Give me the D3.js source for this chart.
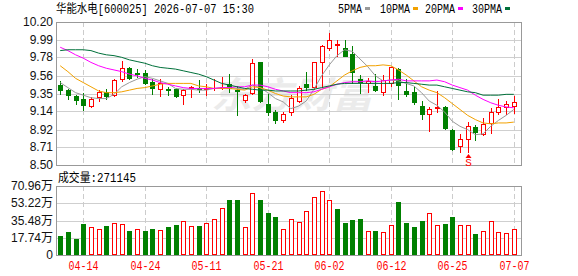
<!DOCTYPE html>
<html><head><meta charset="utf-8">
<script src="https://cdn.jsdelivr.net/npm/d3@7"></script>
<style>html,body{margin:0;padding:0;background:#fff;overflow:hidden}</style>
</head><body><svg id="c" width="578" height="276"></svg>
<script>
const title = "华能水电[600025] 2026-07-07 15:30";
const dates = ["04-09","04-10","04-13","04-14","04-15","04-16","04-17","04-20","04-21","04-22",
"04-23","04-24","04-27","04-28","04-29","04-30","05-06","05-07","05-08","05-11",
"05-12","05-13","05-14","05-15","05-18","05-19","05-20","05-21","05-22","05-25",
"05-26","05-27","05-28","05-29","06-01","06-02","06-03","06-04","06-05","06-08",
"06-09","06-10","06-11","06-12","06-15","06-16","06-17","06-18","06-22","06-23",
"06-24","06-25","06-26","06-29","06-30","07-01","07-02","07-03","07-06","07-07"];
const opens = [9.45,9.39,9.32,9.28,9.20,9.31,9.37,9.33,9.52,9.65,
9.59,9.59,9.49,9.40,9.40,9.40,9.33,9.41,9.41,9.40,
9.41,9.42,9.46,9.39,9.27,9.36,9.72,9.23,9.13,9.04,
9.13,9.26,9.46,9.43,9.73,9.89,9.93,9.89,9.82,9.52,
9.48,9.44,9.37,9.48,9.64,9.38,9.37,9.20,9.11,9.18,
9.19,8.92,8.72,8.81,8.95,8.87,9.00,9.13,9.19,9.20];
const highs = [9.50,9.40,9.33,9.36,9.31,9.39,9.40,9.52,9.74,9.66,
9.64,9.63,9.52,9.52,9.43,9.41,9.40,9.44,9.51,9.46,
9.52,9.55,9.58,9.44,9.35,9.76,9.73,9.35,9.15,9.13,
9.33,9.44,9.61,9.73,9.93,10.07,9.99,9.99,9.92,9.57,
9.53,9.58,9.57,9.67,9.65,9.52,9.44,9.26,9.19,9.38,
9.20,8.93,8.87,9.01,8.98,9.06,9.18,9.28,9.26,9.32];
const lows = [9.34,9.29,9.23,9.15,9.19,9.26,9.28,9.32,9.50,9.52,
9.55,9.46,9.35,9.32,9.33,9.31,9.22,9.31,9.37,9.33,
9.39,9.40,9.37,9.10,9.25,9.35,9.25,9.09,9.00,9.01,
9.09,9.25,9.39,9.40,9.43,9.87,9.80,9.79,9.47,9.36,
9.37,9.38,9.33,9.44,9.29,9.32,9.23,9.05,8.91,9.13,
8.93,8.68,8.65,8.66,8.80,8.86,8.88,9.11,9.11,9.12];
const closes = [9.39,9.33,9.27,9.21,9.29,9.37,9.32,9.51,9.65,9.54,
9.58,9.47,9.42,9.47,9.39,9.32,9.39,9.43,9.40,9.42,
9.42,9.43,9.42,9.38,9.33,9.71,9.26,9.13,9.03,9.11,
9.30,9.42,9.43,9.72,9.91,9.99,9.94,9.80,9.60,9.49,
9.50,9.39,9.51,9.66,9.45,9.34,9.25,9.11,9.17,9.19,
8.94,8.69,8.81,8.96,8.89,8.99,9.13,9.19,9.23,9.25];
// volume in 万
const volumes = [19.5,24.0,16.5,31.9,28.5,26.4,29.8,32.6,31.6,24.7,
26.4,24.7,26.7,25.4,28.8,30.9,34.7,29.5,29.8,32.6,
36.7,48.0,56.6,56.6,28.5,63.4,56.6,43.5,39.1,26.4,
36.7,33.6,44.9,59.3,65.5,56.6,47.3,33.2,36.0,37.0,
24.4,24.4,23.3,30.5,54.5,33.2,28.8,35.0,42.9,30.5,
31.9,39.1,30.5,30.5,21.6,24.4,34.7,23.7,22.6,27.1145];
// 1 = up (red), 0 = down (green) as shown on volume bars
const volUp = [0,0,0,0,1,1,0,1,1,0,
1,0,0,1,0,0,1,1,0,1,
1,1,0,0,1,1,0,0,0,1,
1,1,1,1,1,1,0,0,0,0,
1,0,1,1,0,0,0,0,1,1,
0,0,1,1,0,1,1,1,1,1];
const ma5 = [9.48,9.42,9.36,9.33,9.30,9.29,9.29,9.34,9.43,9.48,
9.52,9.55,9.53,9.50,9.47,9.41,9.40,9.40,9.39,9.39,
9.41,9.42,9.42,9.41,9.40,9.45,9.42,9.36,9.29,9.25,
9.17,9.20,9.26,9.40,9.56,9.69,9.80,9.87,9.85,9.76,
9.67,9.56,9.50,9.51,9.50,9.47,9.44,9.36,9.26,9.21,
9.13,9.02,8.96,8.92,8.86,8.87,8.96,9.03,9.09,9.16];
const ma10 = [9.68,9.61,9.53,9.48,9.43,9.38,9.36,9.36,9.37,9.39,
9.41,9.42,9.44,9.46,9.47,9.47,9.47,9.47,9.44,9.43,
9.41,9.41,9.41,9.40,9.39,9.43,9.42,9.39,9.35,9.32,
9.31,9.31,9.31,9.34,9.40,9.43,9.50,9.57,9.62,9.66,
9.68,9.68,9.69,9.68,9.63,9.57,9.50,9.43,9.39,9.36,
9.30,9.23,9.16,9.09,9.04,9.00,8.99,9.00,9.00,9.01];
const ma20 = [9.90,9.86,9.81,9.77,9.72,9.68,9.65,9.63,9.61,9.58,
9.56,9.53,9.51,9.48,9.46,9.44,9.42,9.41,9.41,9.41,
9.41,9.42,9.42,9.43,9.43,9.45,9.45,9.43,9.40,9.38,
9.36,9.36,9.36,9.37,9.40,9.43,9.46,9.48,9.49,9.49,
9.50,9.49,9.50,9.51,9.52,9.50,9.50,9.50,9.50,9.51,
9.49,9.45,9.42,9.39,9.33,9.28,9.24,9.21,9.19,9.18];
const ma30 = [9.86,9.87,9.87,9.87,9.86,9.83,9.81,9.80,9.78,9.75,
9.73,9.71,9.68,9.66,9.65,9.64,9.62,9.60,9.58,9.55,
9.51,9.47,9.45,9.43,9.41,9.40,9.39,9.39,9.38,9.38,
9.38,9.38,9.39,9.40,9.42,9.44,9.46,9.47,9.47,9.47,
9.47,9.47,9.47,9.47,9.48,9.48,9.47,9.46,9.45,9.45,
9.43,9.41,9.39,9.37,9.36,9.33,9.33,9.33,9.34,9.34];
const maNames = ["5PMA","10PMA","20PMA","30PMA"];
const priceTicks = [10.20,9.99,9.78,9.56,9.35,9.14,8.92,8.71,8.50];
const volTicks = [0,17.74,35.48,53.22,70.96];
const volTickLabels = ["0","17.74万","35.48万","53.22万","70.96万"];
const dateTicks = ["04-14","04-24","05-11","05-21","06-02","06-12","06-25","07-07"];
const volTitle = "成交量:271145";
const signals = [{date:"06-29", label:"S"}];

// ---------- drawing ----------
const svg = d3.select("#c");
const L = 56, R = 522, PT = 22, PB = 165, VT = 186, VB = 255;
const RED = "#ff0000", GREEN = "#008000";
const maColors = ["#999999","#f2a100","#ff00ff","#00703a"];
const monoFont = "'Liberation Mono','Noto Sans CJK SC',monospace";
const sansFont = "'Liberation Sans','Noto Sans CJK SC',Arial,sans-serif";

const x = d3.scalePoint().domain(dates).range([60.2, 513.8]);
const y = d3.scaleLinear().domain([8.50, 10.20]).range([PB, PT]);
const vy = d3.scaleLinear().domain([0, 70.96]).range([VB, VT]);

svg.append("rect").attr("width",578).attr("height",276).attr("fill","#fff");

// watermark
svg.append("text").attr("x",211).attr("y",108)
  .attr("font-family","'Noto Sans CJK SC',sans-serif").attr("font-size",36)
  .attr("font-weight","bold").attr("font-style","italic")
  .attr("fill","#ebebeb").attr("textLength",162).attr("lengthAdjust","spacingAndGlyphs")
  .text("东方财富");

// grids
const grid = svg.append("g");
priceTicks.forEach(t => {
  const yy = Math.round(y(t)) + 0.5;
  grid.append("line").attr("x1",L).attr("x2",R).attr("y1",yy).attr("y2",yy)
    .attr("stroke","#cfcfcf").attr("stroke-width",1);
});
volTicks.forEach(t => {
  const yy = Math.round(vy(t)) + 0.5;
  grid.append("line").attr("x1",L).attr("x2",R).attr("y1",yy).attr("y2",yy)
    .attr("stroke","#cfcfcf").attr("stroke-width",1);
});
dateTicks.forEach(d => {
  const xx = Math.round(x(d)) + 0.5;
  grid.append("line").attr("x1",xx).attr("x2",xx).attr("y1",PT).attr("y2",PB)
    .attr("stroke","#cccccc").attr("stroke-dasharray","5,3");
  grid.append("line").attr("x1",xx).attr("x2",xx).attr("y1",VT).attr("y2",VB)
    .attr("stroke","#cccccc").attr("stroke-dasharray","5,3");
});

// borders
svg.append("rect").attr("x",L+0.5).attr("y",PT+0.5).attr("width",R-L-1).attr("height",PB-PT)
  .attr("fill","none").attr("stroke","#999");
svg.append("rect").attr("x",L+0.5).attr("y",VT+0.5).attr("width",R-L-1).attr("height",VB-VT)
  .attr("fill","none").attr("stroke","#999");

// candles
const cg = svg.append("g");
dates.forEach((d,i) => {
  const o = opens[i], c = closes[i], h = highs[i], l = lows[i];
  const up = c >= o;
  const col = up ? RED : GREEN;
  const cx = Math.round(x(d));
  cg.append("line").attr("x1",cx+0.5).attr("x2",cx+0.5)
    .attr("y1",Math.round(y(h))).attr("y2",Math.round(y(l))+1)
    .attr("stroke",col).attr("stroke-width",1);
  const yTop = Math.round(y(Math.max(o,c))), yBot = Math.round(y(Math.min(o,c)));
  if (yBot - yTop < 1) {
    cg.append("line").attr("x1",cx-2).attr("x2",cx+3).attr("y1",yTop+0.5).attr("y2",yTop+0.5)
      .attr("stroke",col);
  } else if (up) {
    cg.append("rect").attr("x",cx-1.5).attr("y",yTop+0.5).attr("width",4).attr("height",yBot-yTop)
      .attr("fill","#fff").attr("stroke",RED);
  } else {
    cg.append("rect").attr("x",cx-2).attr("y",yTop).attr("width",5).attr("height",yBot-yTop+1)
      .attr("fill",GREEN);
  }
});

// MA lines
[ma5, ma10, ma20, ma30].forEach((arr,k) => {
  const line = d3.line().x((v,i)=>x(dates[i])).y(v=>y(v));
  svg.append("path").attr("d",line(arr)).attr("fill","none")
    .attr("stroke",maColors[k]).attr("stroke-width",1);
});

// signal marker
signals.forEach(s => {
  const i = dates.indexOf(s.date);
  const cx = Math.round(x(s.date)) + 0.5;
  const ty = Math.round(y(lows[i])) + 2;
  svg.append("path").attr("d",`M${cx},${ty} L${cx+3},${ty+4} L${cx-3},${ty+4} Z`).attr("fill",RED);
  svg.append("text").attr("x",cx).attr("y",ty+12).attr("text-anchor","middle")
    .attr("font-family",monoFont).attr("font-size",11).attr("fill",RED).text(s.label);
});

// volume bars
const vg = svg.append("g");
dates.forEach((d,i) => {
  const cx = Math.round(x(d));
  const top = Math.round(vy(volumes[i]));
  if (volUp[i]) {
    vg.append("rect").attr("x",cx-1.5).attr("y",top+0.5).attr("width",4).attr("height",VB-top-1)
      .attr("fill","#fff").attr("stroke",RED);
  } else {
    vg.append("rect").attr("x",cx-2).attr("y",top).attr("width",5).attr("height",VB-top)
      .attr("fill",GREEN);
  }
});

// y labels
priceTicks.forEach(t => {
  svg.append("text").attr("x",53).attr("y",Math.round(y(t))+3.5).attr("text-anchor","end")
    .attr("font-family",sansFont).attr("font-size",12).attr("fill","#111")
    .text(t.toFixed(2));
});
volTicks.forEach((t,k) => {
  svg.append("text").attr("x",53).attr("y",Math.round(vy(t))+4).attr("text-anchor","end")
    .attr("font-family",sansFont).attr("font-size",12).attr("fill","#111")
    .text(volTickLabels[k]);
});

// date labels
dateTicks.forEach(d => {
  svg.append("text").attr("x",Math.round(x(d))+0.5).attr("y",270).attr("text-anchor","middle")
    .attr("font-family",monoFont).attr("font-size",12).attr("fill",RED)
    .attr("textLength",30).attr("lengthAdjust","spacingAndGlyphs").text(d);
});

// title
svg.append("text").attr("x",56).attr("y",12.5).attr("font-family",monoFont).attr("font-size",12)
  .attr("fill","#000").attr("textLength",198).attr("lengthAdjust","spacingAndGlyphs").text(title);
svg.append("text").attr("x",58).attr("y",181.5).attr("font-family",monoFont).attr("font-size",12)
  .attr("fill","#000").attr("textLength",78).attr("lengthAdjust","spacingAndGlyphs").text(volTitle);

// legend
const legX = [338, 380, 425, 472];
maNames.forEach((n,k) => {
  const w = n.length * 6;
  svg.append("text").attr("x",legX[k]).attr("y",12.5).attr("font-family",monoFont).attr("font-size",12)
    .attr("fill","#000").attr("textLength",w).attr("lengthAdjust","spacingAndGlyphs").text(n);
  svg.append("rect").attr("x",legX[k]+w+3).attr("y",7).attr("width",5).attr("height",3)
    .attr("fill",maColors[k]);
});
</script>
</body></html>
